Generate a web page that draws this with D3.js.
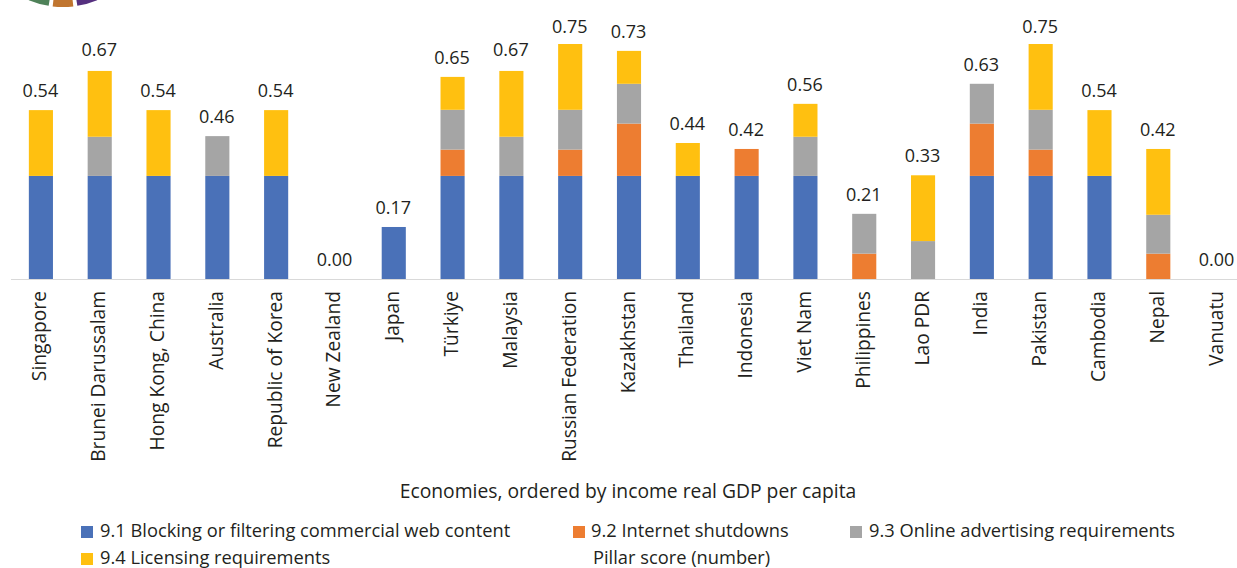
<!DOCTYPE html>
<html><head><meta charset="utf-8">
<script src="https://cdn.jsdelivr.net/npm/d3@7"></script>
<style>html,body{margin:0;padding:0;background:#fff;overflow:hidden}text{font-family:"Open Sans",sans-serif;fill:#231f20}</style>
</head><body><svg id="c" width="1237" height="568"></svg>
<script>
const economies=["Singapore","Brunei Darussalam","Hong Kong, China","Australia","Republic of Korea","New Zealand","Japan","Türkiye","Malaysia","Russian Federation","Kazakhstan","Thailand","Indonesia","Viet Nam","Philippines","Lao PDR","India","Pakistan","Cambodia","Nepal","Vanuatu"];
const blocking=[0.329,0.329,0.329,0.329,0.329,0,0.166,0.329,0.329,0.329,0.329,0.329,0.329,0.329,0,0,0.329,0.329,0.329,0,0];
const shutdowns=[0,0,0,0,0,0,0,0.084,0,0.084,0.167,0,0.086,0,0.081,0,0.167,0.084,0,0.081,0];
const advertising=[0,0.125,0,0.127,0,0,0,0.127,0.125,0.127,0.127,0,0,0.125,0.127,0.121,0.127,0.127,0,0.124,0];
const licensing=[0.21,0.21,0.21,0,0.21,0,0,0.105,0.21,0.21,0.105,0.105,0,0.105,0,0.21,0,0.21,0.21,0.21,0];
const scores=["0.54","0.67","0.54","0.46","0.54","0.00","0.17","0.65","0.67","0.75","0.73","0.44","0.42","0.56","0.21","0.33","0.63","0.75","0.54","0.42","0.00"];
const seriesNames=["9.1 Blocking or filtering commercial web content","9.2 Internet shutdowns","9.3 Online advertising requirements","9.4 Licensing requirements"];
const seriesColors=["#4a71b8","#ed7d31","#a5a5a5","#ffc010"];
const xTitle="Economies, ordered by income real GDP per capita";
const lastLegend="Pillar score (number)";
const logoColors=["#4f8259","#c0752f","#55307f"];

const svg=d3.select("#c");
const x=d3.scaleBand().domain(economies).range([11.5,1246.5]).paddingInner(0.59).paddingOuter(0.295);
const y=d3.scaleLinear().domain([0,0.75]).range([279,44]);
const table=economies.map((e,i)=>({e,s0:blocking[i],s1:shutdowns[i],s2:advertising[i],s3:licensing[i]}));
const stacked=d3.stack().keys(["s0","s1","s2","s3"])(table);

// logo fragment clipped by the top edge
const arc=d3.arc().innerRadius(70).outerRadius(90);
svg.append("g").attr("transform","translate(63,-83)").selectAll("path")
  .data(logoColors).join("path")
  .attr("d",(d,i)=>{const c=Math.PI+(1-i)*0.275;return arc({startAngle:c-0.115,endAngle:c+0.115});})
  .attr("fill",d=>d);

svg.append("g").selectAll("g").data(stacked).join("g").attr("fill",(d,i)=>seriesColors[i])
  .selectAll("rect").data(d=>d.map(v=>({v,e:v.data.e}))).join("rect")
  .attr("x",d=>x(d.e)).attr("width",x.bandwidth())
  .attr("y",d=>y(d.v[1])).attr("height",d=>y(d.v[0])-y(d.v[1]));

svg.append("line").attr("x1",11).attr("x2",1237).attr("y1",279.5).attr("y2",279.5).attr("stroke","#d9d9d9").attr("stroke-width",1.2);

const labelGap=s=>s==="0.75"?11:s==="0.67"?14.5:13;
svg.append("g").selectAll("text").data(economies).join("text")
  .attr("font-size",18).attr("text-anchor","middle")
  .attr("x",e=>x(e)+x.bandwidth()/2-0.5)
  .attr("y",(e,i)=>y(blocking[i]+shutdowns[i]+advertising[i]+licensing[i])-labelGap(scores[i]))
  .text((e,i)=>scores[i]);

svg.append("g").selectAll("text").data(economies).join("text")
  .attr("font-size",19.2).attr("text-anchor","end")
  .attr("transform",e=>`translate(${x(e)+x.bandwidth()/2+5.5},291) rotate(-90)`)
  .text(e=>e);

svg.append("text").attr("x",628).attr("y",498).attr("text-anchor","middle").attr("font-size",19.3).text(xTitle);

const legendPos=[[81,100,537,526],[573,591,537,526],[850,869,537,526],[81,100,564,553]];
seriesNames.forEach((n,i)=>{
  const p=legendPos[i];
  svg.append("rect").attr("x",p[0]).attr("y",p[3]).attr("width",12).attr("height",12).attr("fill",seriesColors[i]);
  svg.append("text").attr("x",p[1]).attr("y",p[2]).attr("font-size",18.3).text(n);
});
svg.append("text").attr("x",593).attr("y",564).attr("font-size",18.3).text(lastLegend);
</script></body></html>
